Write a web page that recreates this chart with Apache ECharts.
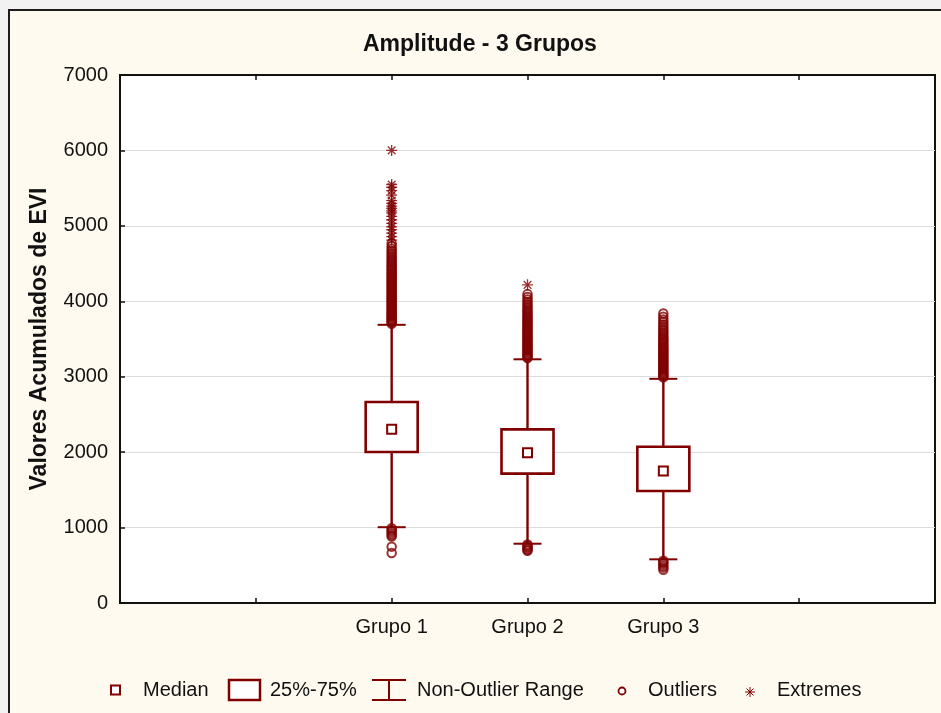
<!DOCTYPE html>
<html>
<head>
<meta charset="utf-8">
<script src="https://cdn.jsdelivr.net/npm/echarts@6/dist/echarts.min.js"></script>
<style>
  html, body { margin: 0; padding: 0; background: #f2f2f2; overflow: hidden; width: 941px; height: 713px; }
  #frame { position: absolute; left: 8px; top: 9px; width: 933px; height: 704px; box-sizing: border-box;
           background: #fffaf0; border-left: 2px solid #1c1c1c; border-top: 2px solid #1c1c1c; }
  #chart { position: absolute; left: 0; top: 0; width: 941px; height: 713px; }
</style>
</head>
<body>
<div id="frame"></div>
<div id="chart"></div>
<script>
// Horizontal slots of the x axis; groups sit on the labelled ones
const slots = ['', '', 'Grupo 1', 'Grupo 2', 'Grupo 3', '', ''];
const groups = ['Grupo 1', 'Grupo 2', 'Grupo 3'];
const yTicks = [0, 1000, 2000, 3000, 4000, 5000, 6000, 7000];

// Box statistics per group
const whiskerLow  = [1005, 786, 579];
const quartile1   = [2002, 1715, 1485];
const median      = [2305, 1993, 1750];
const quartile3   = [2665, 2302, 2072];
const whiskerHigh = [3688, 3231, 2972];

// Outliers per group
const outliers1 = [990, 968, 947, 925, 902, 880, 747, 663,
  3702, 3718, 3731, 3749, 3763, 3780, 3794, 3812, 3826, 3843, 3861, 3877, 3895, 3912, 3930, 3946,
  3965, 3983, 4001, 4019, 4036, 4055, 4072, 4091, 4110, 4128, 4147, 4166, 4185, 4204, 4223, 4243,
  4262, 4282, 4301, 4321, 4342, 4362, 4383, 4404, 4426, 4447, 4469, 4491, 4514, 4537, 4561, 4586,
  4612, 4639, 4668, 4697, 4731, 4768];
const outliers2 = [776, 758, 741, 722, 704, 692,
  3246, 3262, 3279, 3295, 3312, 3330, 3347, 3363, 3381, 3398, 3416, 3433, 3451, 3469, 3487, 3504,
  3523, 3541, 3559, 3578, 3596, 3615, 3634, 3653, 3672, 3692, 3711, 3731, 3751, 3772, 3793, 3815,
  3838, 3861, 3885, 3910, 3936, 3963, 3992, 4024, 4058, 4095];
const outliers3 = [560, 540, 520, 495, 470, 440,
  2991, 3007, 3024, 3040, 3057, 3073, 3090, 3108, 3125, 3142, 3160, 3177, 3195, 3213, 3231, 3249,
  3268, 3286, 3305, 3324, 3343, 3362, 3382, 3402, 3422, 3443, 3464, 3486, 3508, 3531, 3555, 3580,
  3606, 3633, 3662, 3692, 3724, 3758, 3795, 3838];

// Extreme values per group
const extremes1 = [4812, 4858, 4903, 4951, 4987, 5034, 5081, 5126, 5172, 5198, 5231, 5262, 5297,
  5335, 5408, 5466, 5512, 5548, 6000];
const extremes2 = [4218];
const extremes3 = [];

const legendLabels = ['Median', '25%-75%', 'Non-Outlier Range', 'Outliers', 'Extremes'];

const RED = '#800000';
const FONT = '"Liberation Sans", Arial, sans-serif';
const STAR = 'path://M5,0L5,10M0,5L10,5M1.5,1.5L8.5,8.5M8.5,1.5L1.5,8.5';

const xOf = g => slots.indexOf(g);
const boxData = groups.map((g, i) =>
  [xOf(g), whiskerLow[i], quartile1[i], median[i], quartile3[i], whiskerHigh[i]]);
const outlierSets = [outliers1, outliers2, outliers3];
const extremeSets = [extremes1, extremes2, extremes3];
const outlierData = [];
const extremeData = [];
groups.forEach((g, i) => {
  outlierSets[i].forEach(v => outlierData.push([xOf(g), v]));
  extremeSets[i].forEach(v => extremeData.push([xOf(g), v]));
});

function renderBox(params, api) {
  const x = api.value(0);
  const pLow = api.coord([x, api.value(1)]);
  const pQ1 = api.coord([x, api.value(2)]);
  const pMed = api.coord([x, api.value(3)]);
  const pQ3 = api.coord([x, api.value(4)]);
  const pHigh = api.coord([x, api.value(5)]);
  const cx = pMed[0];
  const half = 26, cap = 14, m = 4.5;
  const line = (x1, y1, x2, y2, w) => ({
    type: 'line', shape: { x1, y1, x2, y2 }, style: { stroke: RED, lineWidth: w }
  });
  return {
    type: 'group',
    children: [
      line(cx, pHigh[1], cx, pQ3[1], 2.4),
      line(cx, pQ1[1], cx, pLow[1], 2.4),
      line(cx - cap, pHigh[1], cx + cap, pHigh[1], 2),
      line(cx - cap, pLow[1], cx + cap, pLow[1], 2),
      { type: 'rect', shape: { x: cx - half, y: pQ3[1], width: 2 * half, height: pQ1[1] - pQ3[1] },
        style: { fill: '#fff', stroke: RED, lineWidth: 2.6 } },
      { type: 'rect', shape: { x: cx - m, y: pMed[1] - m, width: 2 * m, height: 2 * m },
        style: { fill: '#fff', stroke: RED, lineWidth: 2 } }
    ]
  };
}

// Legend row drawn as graphic elements
const LY = 690;
const legendText = (x, t) => ({
  type: 'text', x: x, y: LY,
  style: { text: t, font: '20px ' + FONT, fill: '#111', verticalAlign: 'middle', align: 'left' }
});
const seg = (x1, y1, x2, y2, w) => ({
  type: 'line', shape: { x1, y1, x2, y2 }, style: { stroke: RED, lineWidth: w }
});
const SX = 750, SY = LY + 2, SR = 5;
const legend = [
  { type: 'rect', shape: { x: 111, y: LY - 4.5, width: 9, height: 9 },
    style: { fill: '#fff', stroke: RED, lineWidth: 2 } },
  legendText(143, legendLabels[0]),
  { type: 'rect', shape: { x: 229, y: LY - 10, width: 31, height: 20 },
    style: { fill: '#fff', stroke: RED, lineWidth: 2.5 } },
  legendText(270, legendLabels[1]),
  seg(372, LY - 10, 406, LY - 10, 2),
  seg(372, LY + 10, 406, LY + 10, 2),
  seg(389, LY - 10, 389, LY + 10, 2),
  legendText(417, legendLabels[2]),
  { type: 'circle', shape: { cx: 622, cy: LY + 1, r: 3.5 },
    style: { fill: '#fff', stroke: RED, lineWidth: 1.8 } },
  legendText(648, legendLabels[3]),
  seg(SX, SY - SR, SX, SY + SR, 1),
  seg(SX - SR, SY, SX + SR, SY, 1),
  seg(SX - 3.5, SY - 3.5, SX + 3.5, SY + 3.5, 1),
  seg(SX - 3.5, SY + 3.5, SX + 3.5, SY - 3.5, 1),
  legendText(777, legendLabels[4])
];

const chart = echarts.init(document.getElementById('chart'), null, { renderer: 'canvas' });
chart.setOption({
  backgroundColor: 'transparent',
  animation: false,
  textStyle: { fontFamily: FONT },
  title: {
    text: 'Amplitude - 3 Grupos', left: 358, top: 28,
    textStyle: { fontSize: 23, fontWeight: 'bold', color: '#111', fontFamily: FONT }
  },
  grid: { left: 120, right: 6, top: 75, bottom: 110, show: true,
          backgroundColor: '#fff', borderColor: '#111', borderWidth: 2 },
  xAxis: [{
    type: 'value', min: 0, max: slots.length - 1, interval: 1, position: 'bottom',
    axisLine: { show: true, lineStyle: { color: '#111', width: 2 } },
    axisTick: { show: true, inside: true, length: 5, lineStyle: { color: '#111', width: 1.5 } },
    splitLine: { show: false },
    axisLabel: { formatter: v => slots[v] || '', fontSize: 20, color: '#111', margin: 14, fontFamily: FONT }
  }, {
    type: 'value', min: 0, max: slots.length - 1, interval: 1, position: 'top',
    axisLine: { show: true, lineStyle: { color: '#111', width: 2 } },
    axisTick: { show: true, inside: true, length: 5, lineStyle: { color: '#111', width: 1.5 } },
    splitLine: { show: false },
    axisLabel: { show: false }
  }],
  yAxis: {
    type: 'value', min: yTicks[0], max: yTicks[yTicks.length - 1], interval: yTicks[1] - yTicks[0],
    name: 'Valores Acumulados de EVI', nameLocation: 'middle', nameGap: 69,
    nameTextStyle: { fontSize: 23, fontWeight: 'bold', color: '#111', fontFamily: FONT },
    axisLine: { show: true, lineStyle: { color: '#111', width: 2 } },
    axisTick: { show: true, inside: true, length: 5, lineStyle: { color: '#111', width: 1.5 } },
    splitLine: { show: true, lineStyle: { color: '#dcdcdc', width: 1 } },
    axisLabel: { formatter: v => String(v), fontSize: 20, color: '#111', margin: 12, fontFamily: FONT }
  },
  series: [
    {
      name: 'Outliers', type: 'scatter', data: outlierData, z: 2,
      symbol: 'circle', symbolSize: 8.5,
      itemStyle: { color: 'rgba(255,255,255,0)', borderColor: RED, borderWidth: 2 }
    },
    {
      name: 'Extremes', type: 'scatter', data: extremeData, z: 2,
      symbol: STAR, symbolSize: 11,
      itemStyle: { color: 'rgba(0,0,0,0)', borderColor: RED, borderWidth: 1.3 }
    },
    {
      name: 'Boxes', type: 'custom', data: boxData, z: 3,
      encode: { x: 0, y: [1, 2, 3, 4, 5] },
      renderItem: renderBox
    }
  ],
  graphic: legend
});
</script>
</body>
</html>
